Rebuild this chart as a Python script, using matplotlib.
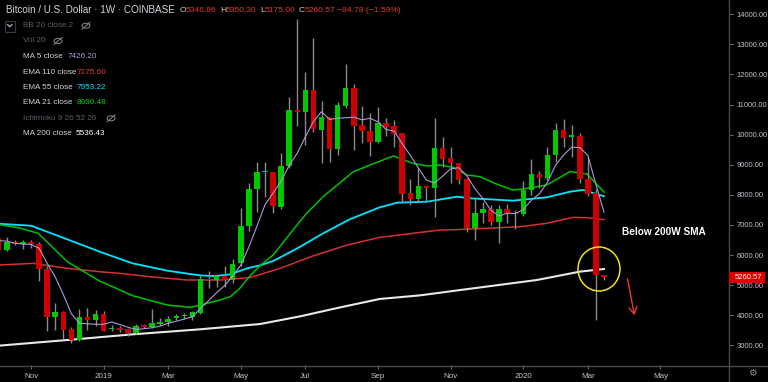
import matplotlib
matplotlib.use("Agg")
import matplotlib.pyplot as plt
import numpy as np
import pandas as pd
from matplotlib.patches import Rectangle, Ellipse

# ---------------- data (weekly candles, index 0 = week of 5 Nov 2018) ----------------
weeks = list(range(-4, 72))
opens = [6560, 6170, 6445, 6370, 6440, 6380, 5550, 3925, 4110, 3530,
         3175, 3950, 3825, 4040, 3530, 3565, 3530, 3400, 3660, 3615,
         3715, 3785, 3895, 3975, 3955, 4065, 5215, 5170, 5305, 5170,
         5725, 6970, 8195, 8750, 8750, 7610, 8960, 10830, 10755, 11475,
         10155, 10590, 9515, 10965, 11540, 10320, 10135, 9770, 10400, 10300,
         10045, 8050, 7850, 8295, 8220, 9545, 9215, 9050, 8515, 6910,
         7410, 7520, 7110, 7520, 7410, 7355, 8160, 8695, 8575, 9325,
         10155, 9935, 9970, 8520, 8050, 5346.86]
highs = [6720, 6610, 6500, 6500, 6500, 6450, 5620, 4420, 4150, 3600,
         4200, 4230, 4170, 4150, 3670, 3640, 3570, 3720, 3700, 4200,
         3900, 3985, 4050, 4060, 4150, 5350, 5480, 5370, 5635, 5860,
         7560, 8400, 9100, 9100, 8770, 9380, 11260, 13860, 12070, 13200,
         11130, 10590, 11075, 12340, 11700, 10950, 10710, 10930, 10540, 10490,
         10045, 8520, 8880, 8300, 10540, 9935, 9600, 9075, 8550, 7885,
         7775, 7660, 7665, 7700, 7500, 8470, 9190, 8805, 9600, 10375,
         10510, 10320, 10045, 9270, 8180, 5350.30]
lows = [6150, 6150, 6330, 6200, 6250, 5150, 3460, 3510, 3200, 3090,
        3150, 3510, 3630, 3460, 3470, 3450, 3310, 3360, 3580, 3590,
        3680, 3640, 3840, 3860, 3850, 4030, 4900, 4950, 4950, 5060,
        5640, 6800, 7440, 7940, 7410, 7520, 8900, 10290, 9660, 10080,
        9050, 9100, 9325, 10900, 9490, 9735, 9290, 9735, 9950, 9600,
        7720, 7660, 7800, 7775, 7280, 8940, 8385, 8360, 6780, 6500,
        7075, 6990, 6410, 7075, 6855, 7300, 7995, 8215, 8500, 9105,
        9600, 9250, 8385, 7960, 3840, 5175.00]
closes = [6170, 6420, 6370, 6435, 6360, 5540, 3925, 4110, 3510, 3170,
          3950, 3830, 4040, 3490, 3565, 3520, 3400, 3655, 3615, 3740,
          3785, 3885, 3975, 3990, 4095, 5195, 5170, 5305, 5170, 5705,
          6970, 8190, 8750, 8760, 7630, 8960, 10820, 10765, 11475, 10175,
          10590, 9515, 10985, 11540, 10290, 10135, 9770, 10400, 10265, 10025,
          8030, 7850, 8295, 8240, 9545, 9190, 9050, 8495, 6910, 7410,
          7520, 7110, 7520, 7385, 7360, 8160, 8695, 8575, 9325, 10155,
          9880, 9990, 8520, 8020, 5340.43, 5260.57]
prior_closes = [6500, 6700, 6600, 6420]   # closes before the visible window (for MA 5)

ema21_k = [-4, -1.4, 0.9, 2.4, 4.5, 8.5, 12.6, 16.9, 19.7, 20.9, 23.4, 24.7, 25.9, 27.1,
           28.6, 30, 33, 34.2, 36.2, 39.9, 42, 44.9, 47.3, 49.1, 50.7, 52.3, 54, 55.6,
           57.5, 59.7, 61, 63.9, 66.8, 68.9, 71]
ema21_v = [7010, 6900, 6720, 6330, 5780, 5137, 4649, 4339, 4262, 4330, 4506, 4617, 4900, 5300,
           5700, 6000, 7010, 7400, 7940, 8760, 8992, 9291, 9048, 8959, 8992, 8915, 8660, 8605,
           8380, 8162, 8195, 8328, 8771, 8693, 8090.48]

ema55_k = [-4, 0, 4.5, 8.5, 12.6, 16.9, 20.9, 22.8, 24.7, 26.8, 28.4, 30, 33, 36.2, 39.5,
           43.2, 45.4, 49.1, 52.8, 54.4, 56.9, 59.7, 63.9, 66.8, 68.4, 71]
ema55_v = [7040, 6975, 6522, 6112, 5724, 5480, 5325, 5300, 5360, 5560, 5658, 5802, 6222, 6721, 7187,
           7585, 7740, 7774, 7940, 7885, 7851, 7807, 7918, 8106, 8162, 7953.22]

ema110_k = [-4, 0.25, 4.5, 8.5, 11, 14.7, 19.3, 23.4, 27.1, 30.9, 34.9, 39.2, 43.2, 47.3,
            50.7, 52.3, 56.5, 60.6, 63.9, 67.2, 69, 71]
ema110_v = [5669, 5724, 5558, 5447, 5392, 5280, 5171, 5171, 5249, 5560, 5968, 6333, 6588, 6721,
            6832, 6840, 6888, 6943, 7054, 7253, 7240, 7175.60]

ma200_k = [-4, 4.5, 12.6, 20.9, 28.4, 33.3, 38.3, 43.2, 48.2, 54.4, 62.7, 68.0, 71]
ma200_v = [2988, 3177, 3365, 3531, 3708, 3960, 4260, 4540, 4660, 4880, 5171, 5448, 5536.43]

month_k = [0, 9, 17, 26, 34, 43, 52, 61, 69, 78]
month_labels = ["Nov", "2019", "Mar", "May", "Jul", "Sep", "Nov", "2020", "Mar", "May"]
price_ticks = [3000, 4000, 5000, 6000, 7000, 8000, 9000, 10000, 11000, 12000, 13000, 14000]

# ---------------- style ----------------
BG = "#000000"
UP = "#00c800"
DN = "#cc0000"
WICK = "#8a8a8a"
C_MA5 = "#a99bd6"
C_E21 = "#00c000"
C_E55 = "#00e5ff"
C_E110 = "#d83030"
C_MA200 = "#e8e8e8"
TXT = "#d1d4dc"
DIM = "#5d606b"
AXC = "#4a4a4a"

plt.rcParams["font.family"] = ["Liberation Sans", "DejaVu Sans"]

W, H = 768, 382
fig = plt.figure(figsize=(W / 100, H / 100), dpi=100, facecolor=BG)
ax = fig.add_axes([0, 17 / H, 729 / W, 365 / H], facecolor=BG)

PXW = 8.07          # px per week
x0 = 31.0           # px of week 0
ax.set_xlim((0 - x0) / PXW, (729 - x0) / PXW)
ax.set_ylim(14000 - (365 - 14.3) * 33.23, 14000 + 14.3 * 33.23)

# moving averages (behind candles)
cl = pd.Series(prior_closes + closes, dtype=float)
ma5 = cl.rolling(5).mean().iloc[len(prior_closes):].to_numpy()
ax.plot(ma200_k, ma200_v, color=C_MA200, lw=1.5, zorder=2)
ax.plot(ema110_k, ema110_v, color=C_E110, lw=1.1, zorder=2)
ax.plot(ema55_k, ema55_v, color=C_E55, lw=1.3, zorder=2)
ax.plot(ema21_k, ema21_v, color=C_E21, lw=1.1, zorder=2)

# candles
o = np.array(opens); h = np.array(highs); l = np.array(lows); c = np.array(closes)
wk = np.array(weeks, dtype=float)
ax.vlines(wk, l, h, color=WICK, lw=1.0, zorder=3)
cols = np.where(c >= o, UP, DN)
body_h = np.maximum(np.abs(c - o), 35)
body_b = np.minimum(o, c)
ax.bar(wk, body_h, bottom=body_b, width=0.68, color=cols, linewidth=0, zorder=4)

ax.plot(wk, ma5, color=C_MA5, lw=0.8, zorder=5)

# axes styling
for s in ax.spines.values():
    s.set_visible(False)
ax.yaxis.tick_right()
ax.set_yticks(price_ticks)
ax.set_yticklabels([f"{v:.2f}" for v in price_ticks])
ax.set_xticks(month_k)
ax.set_xticklabels(month_labels)
ax.tick_params(axis="y", colors="#6a6d78", labelcolor="#c0c3cc", length=3, width=0.8,
               pad=2.5, labelsize=5.5)
ax.tick_params(axis="x", colors="#6a6d78", labelcolor="#c0c3cc", length=3, width=0.8,
               pad=3.0, labelsize=5.8)

# overlay in pixel coordinates
ov = fig.add_axes([0, 0, 1, 1], facecolor="none")
ov.set_xlim(0, W)
ov.set_ylim(H, 0)
ov.axis("off")
ov.plot([729, 729], [0, H], color=AXC, lw=1)
ov.plot([0, W], [365.5, 365.5], color=AXC, lw=1)

# last price label
ov.add_patch(Rectangle((729, 272), 36, 11, fc="#d50000", ec="none", zorder=6))
ov.text(735, 277.6, f"{closes[-1]:.2f}", color="white", fontsize=5.5, va="center",
        ha="left", zorder=7)
ov.text(752, 373, "\u2699", color="#8a8d96", fontsize=7, va="center", ha="center",
        family=["DejaVu Sans"])

# annotation
ov.add_patch(Ellipse((599, 269), 42, 44, fc="none", ec="#f0e020", lw=1.1, zorder=8))
ov.annotate("", xy=(635, 318), xytext=(627, 276),
            arrowprops=dict(arrowstyle="->,head_length=0.5,head_width=0.3",
                            color="#e8382f", lw=1.0), zorder=8)
ov.text(622, 232, "Below 200W SMA", color="white", fontsize=7.2, fontweight="bold",
        va="center", ha="left")

# legend / header
FS = 5.9
def t(x, y, s, color=TXT, size=FS, **kw):
    ov.text(x, y, s, color=color, fontsize=size, va="center", ha="left", **kw)

t(6, 10, "Bitcoin / U.S. Dollar \u00b7 1W \u00b7 COINBASE", size=7.1)
RED = "#e53935"
HS = 6.1
t(180, 10, "O", size=HS); t(185.5, 10, f"{opens[-1]:.2f}", RED, HS)
t(220, 10, "H", size=HS); t(225.5, 10, f"{highs[-1]:.2f}", RED, HS)
t(260, 10, "L", size=HS); t(264.5, 10, f"{lows[-1]:.2f}", RED, HS)
t(299, 10, "C", size=HS); t(304.5, 10, f"{closes[-1]:.2f}", RED, HS)
t(337, 10, "\u221284.78 (\u22121.59%)", RED, HS)

ov.add_patch(Rectangle((4.5, 20.5), 10.5, 11, fc="none", ec="#363a45", lw=0.8))
ov.plot([7.5, 9.75, 12], [24.5, 26.8, 24.5], color="#c0c3cc", lw=0.8)

rows = [
    (25.7, "BB 20 close 2", None, None, DIM),
    (41.0, "Vol 20", None, None, DIM),
    (56.7, "MA 5 close", f"{ma5[-1]:.2f}", C_MA5, TXT),
    (72.0, "EMA 110 close", f"{ema110_v[-1]:.2f}", "#e53935", TXT),
    (87.7, "EMA 55 close", f"{ema55_v[-1]:.2f}", C_E55, TXT),
    (102.7, "EMA 21 close", f"{ema21_v[-1]:.2f}", "#00d000", TXT),
    (118.3, "Ichimoku 9 26 52 26", None, None, DIM),
    (133.7, "MA 200 close", f"{ma200_v[-1]:.2f}", "#ffffff", TXT),
]
val_x = {"MA 5 close": 68, "EMA 110 close": 76.5, "EMA 55 close": 77,
         "EMA 21 close": 77, "MA 200 close": 76}
eye_x = {"BB 20 close 2": 86, "Vol 20": 58, "Ichimoku 9 26 52 26": 111}
for y, lab, val, vcol, lcol in rows:
    t(23, y, lab, lcol)
    if val is not None:
        t(val_x[lab], y, val, vcol)
    if lab in eye_x:
        ex = eye_x[lab]
        ov.add_patch(Ellipse((ex, y), 8, 5, fc="none", ec="#8a8d96", lw=0.7))
        ov.plot([ex - 4, ex + 4], [y + 3.5, y - 3.5], color="#8a8d96", lw=0.7)

fig.savefig("out.png", dpi=100, facecolor=BG)
